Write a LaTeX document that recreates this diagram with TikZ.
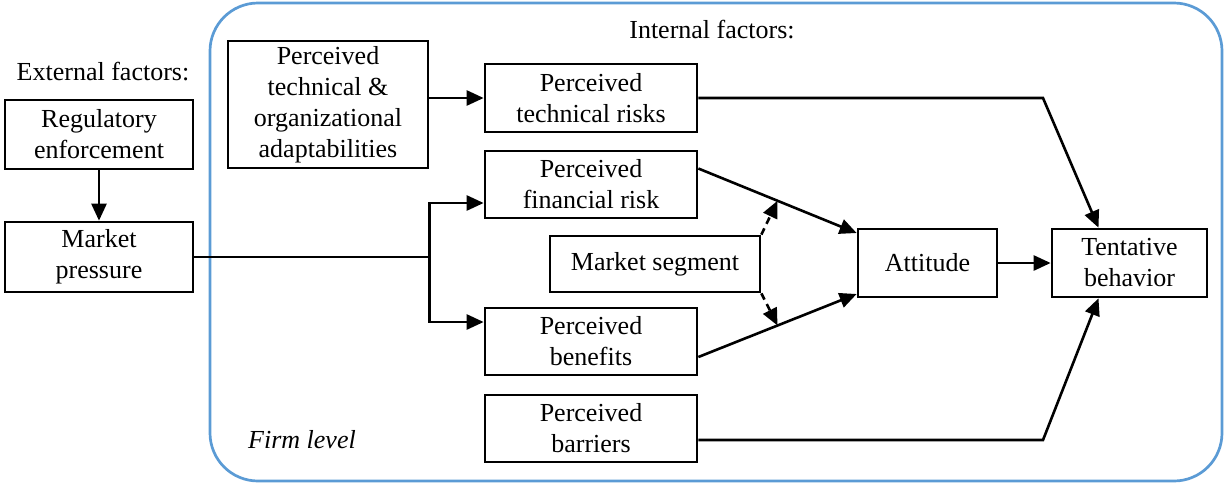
\documentclass[tikz,border=0pt]{standalone}
\usepackage{fontspec}
\setmainfont{Liberation Serif}
\usetikzlibrary{arrows.meta,calc}
\definecolor{firmblue}{RGB}{91,155,213}
\begin{document}
\begin{tikzpicture}[x=1pt,y=-1pt,
  font=\fontsize{26}{31}\selectfont,
  box/.style={draw=black,line width=2.7pt,align=center,inner sep=0pt},
  conn/.style={line width=2.6pt,-{Triangle[length=17pt,width=15pt]}},
  dconn/.style={line width=2.6pt,dash pattern=on 7pt off 5pt,-{Triangle[length=17pt,width=15pt]}},
  plain/.style={line width=2.6pt}]
\useasboundingbox (0,0) rectangle (1224,483);
% firm boundary
\draw[firmblue,line width=2.7pt,rounded corners=48pt] (210,3) rectangle (1222,481);
\node (intl) at (712,30) {Internal factors:};
\node (extl) at (103,72) {External factors:};
\node[font=\fontsize{26}{31}\selectfont\itshape] (firm) at (302,440) {Firm level};
% external boxes
\node[box,minimum width=188pt,minimum height=69pt] (reg) at (99,134.5) {Regulatory\\enforcement};
\node[box,minimum width=188pt,minimum height=70pt] (mp) at (99,257) {Market\\pressure};
% internal boxes
\node[box,minimum width=200pt,minimum height=127pt] (ado) at (328,104.5) {Perceived\\technical \&\\organizational\\adaptabilities};
\node[box,minimum width=212pt,minimum height=68pt] (tr) at (591,98) {Perceived\\technical risks};
\node[box,minimum width=212pt,minimum height=67pt] (fin) at (591,184.5) {Perceived\\financial risk};
\node[box,minimum width=210pt,minimum height=56pt] (seg) at (655,264) {Market segment};
\node[box,minimum width=212pt,minimum height=67pt] (ben) at (591,341.5) {Perceived\\benefits};
\node[box,minimum width=212pt,minimum height=67pt] (bar) at (591,428.5) {Perceived\\barriers};
\node[box,minimum width=139pt,minimum height=68pt] (att) at (927.5,263) {Attitude};
\node[box,minimum width=155pt,minimum height=68pt] (tb) at (1129.5,263) {Tentative\\behavior};
% connectors
\draw[conn] (reg) -- (mp);
\draw[conn] (ado.east |- tr.west) -- (tr.west);
\coordinate (split) at (ado.east |- mp.east);
\draw[plain] (mp.east) -- (split);
\draw[conn] (split) |- ([yshift=-18.5pt]fin.west);
\draw[conn] (split) |- ([yshift=19.5pt]ben.west);
\coordinate (finout) at ([yshift=16pt]fin.east);
\coordinate (attin1) at ([yshift=30pt]att.west);
\coordinate (benout) at ([yshift=-15.5pt]ben.east);
\coordinate (attin2) at ([yshift=-31pt]att.west);
\draw[conn] (finout) -- (attin1);
\draw[conn] (benout) -- (attin2);
\draw[dconn] (seg.north east) -- ($(finout)!0.5!(attin1)$);
\draw[dconn] (seg.south east) -- ($(benout)!0.5!(attin2)$);
\draw[conn] (att) -- (tb);
\coordinate (trbend) at (1043,98);
\draw[conn] (tr.east) -- (trbend) -- ([xshift=-31pt]tb.north);
\coordinate (barbend) at (1043,440);
\draw[conn] ([yshift=-11.5pt]bar.east) -- (barbend) -- ([xshift=-31pt]tb.south);
\end{tikzpicture}
\end{document}
